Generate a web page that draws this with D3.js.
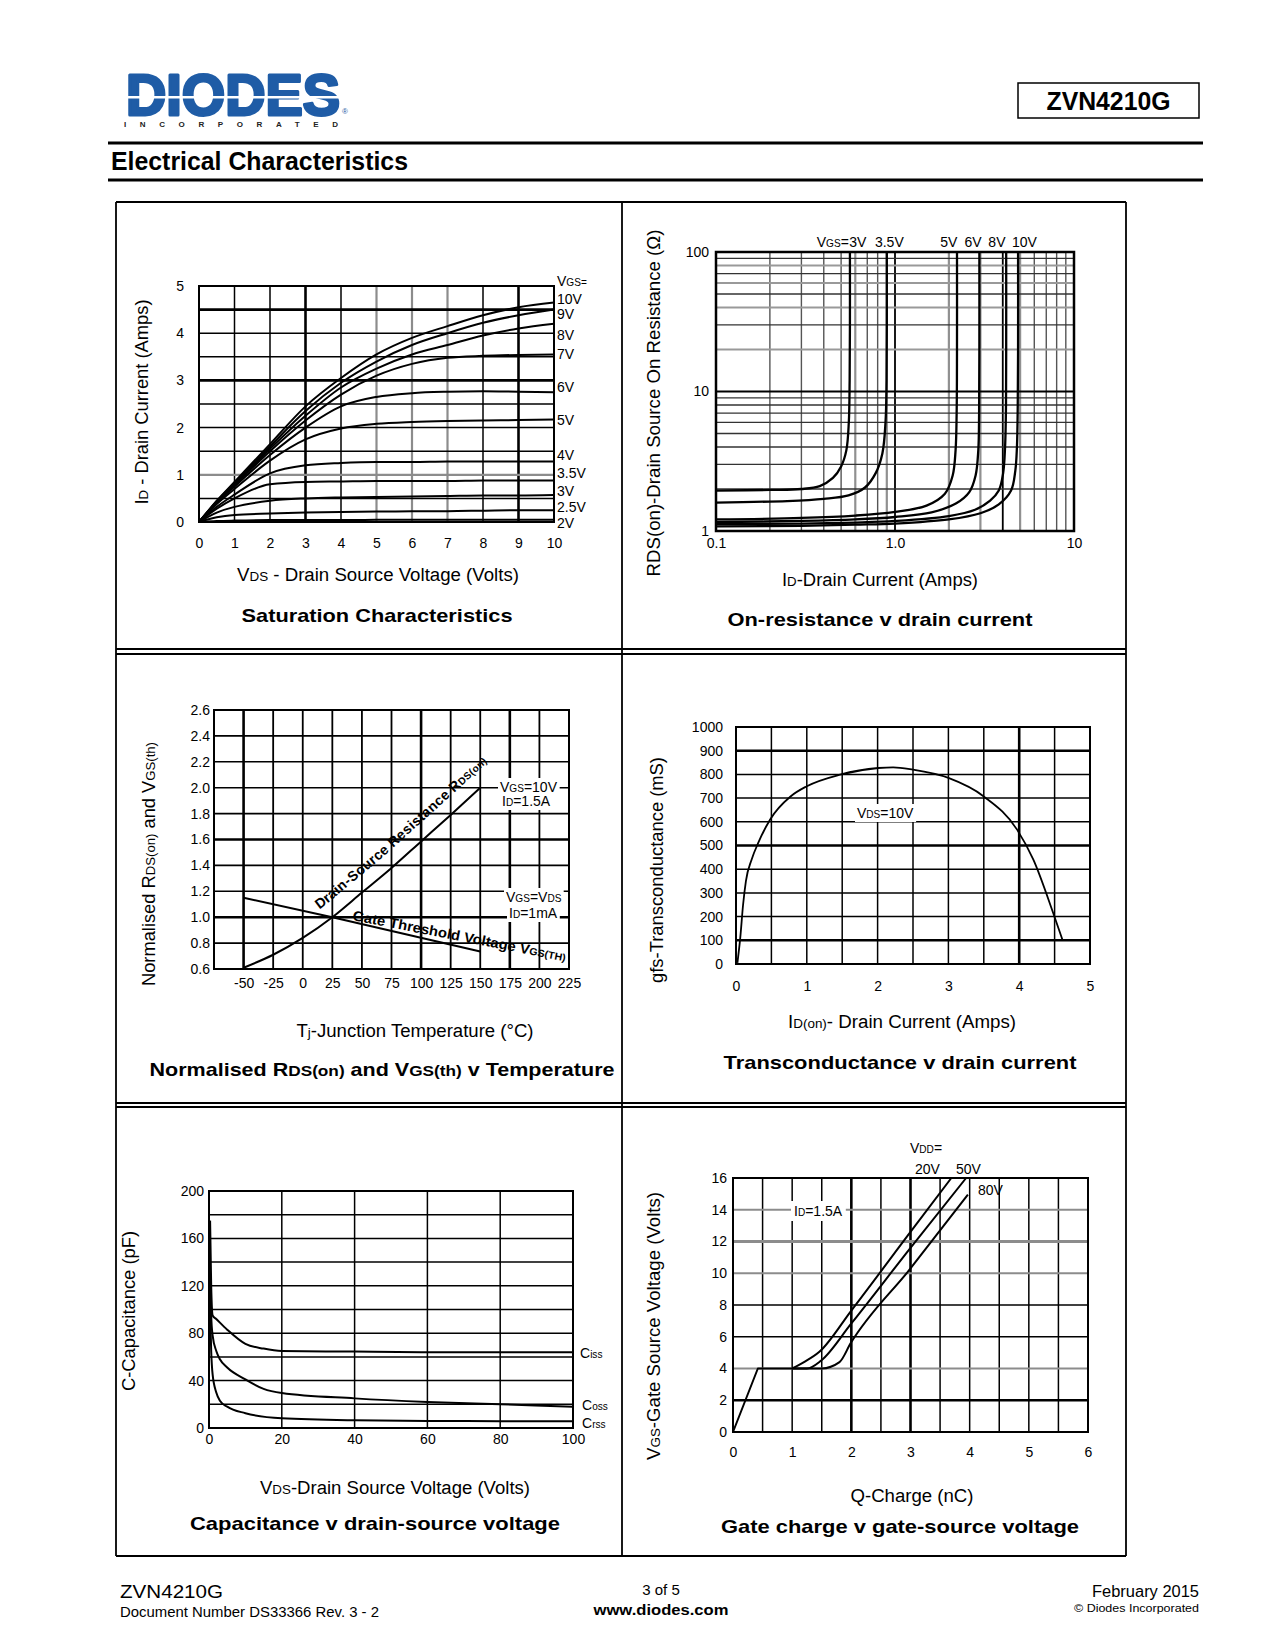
<!DOCTYPE html>
<html><head><meta charset="utf-8">
<script src="https://cdn.jsdelivr.net/npm/d3@7"></script>
<style>body{margin:0;background:#fff} svg{display:block} text{font-family:"Liberation Sans",Arial,sans-serif}</style>
</head><body>
<script>
// ---------- DATA ----------
// Saturation characteristics (ID vs VDS)
const satVds   = [0, 0.5, 1, 2, 3, 4, 5, 6, 7, 8, 9, 10];
const sat10V   = [0, 0.45, 0.85, 1.65, 2.45, 3.05, 3.55, 3.9, 4.15, 4.38, 4.55, 4.65];
const sat9V    = [0, 0.44, 0.83, 1.6, 2.35, 2.95, 3.4, 3.75, 4.0, 4.22, 4.38, 4.5];
const sat8V    = [0, 0.43, 0.8, 1.55, 2.25, 2.85, 3.25, 3.55, 3.75, 3.95, 4.1, 4.2];
const sat7V    = [0, 0.42, 0.78, 1.5, 2.15, 2.7, 3.1, 3.35, 3.48, 3.52, 3.54, 3.55];
const sat6V    = [0, 0.4, 0.75, 1.42, 2.0, 2.45, 2.65, 2.73, 2.76, 2.77, 2.76, 2.75];
const sat5V    = [0, 0.38, 0.7, 1.3, 1.75, 1.98, 2.08, 2.12, 2.14, 2.15, 2.16, 2.17];
const sat4V    = [0, 0.32, 0.58, 1.03, 1.2, 1.25, 1.27, 1.27, 1.28, 1.28, 1.28, 1.28];
const sat3_5V  = [0, 0.28, 0.5, 0.8, 0.85, 0.86, 0.87, 0.87, 0.87, 0.88, 0.88, 0.88];
const sat3V    = [0, 0.2, 0.32, 0.45, 0.5, 0.52, 0.53, 0.54, 0.55, 0.56, 0.56, 0.57];
const sat2_5V  = [0, 0.1, 0.15, 0.18, 0.2, 0.21, 0.22, 0.23, 0.23, 0.24, 0.25, 0.25];
const sat2V    = [0, 0.02, 0.03, 0.04, 0.04, 0.04, 0.05, 0.05, 0.05, 0.05, 0.05, 0.05];
const satLabels  = ["10V","9V","8V","7V","6V","5V","4V","3.5V","3V","2.5V","2V"];
const satLabelAt = [4.72, 4.41, 3.96, 3.56, 2.86, 2.16, 1.42, 1.04, 0.66, 0.32, -0.02];
const satXTicks = [0,1,2,3,4,5,6,7,8,9,10];
const satYTicks = [0,1,2,3,4,5];

// On-resistance vs drain current ([ID A, RDS ohm])
const ron3V   = [[0.1,1.95],[0.2,1.97],[0.3,2.0],[0.38,2.1],[0.45,2.4],[0.5,2.9],[0.535,3.8],[0.552,6],[0.558,12],[0.56,30],[0.56,100]];
const ron3_5V = [[0.1,1.6],[0.25,1.64],[0.4,1.7],[0.55,1.8],[0.68,2.05],[0.78,2.6],[0.85,3.6],[0.885,6],[0.897,12],[0.9,30],[0.9,100]];
const ron5V   = [[0.1,1.21],[0.3,1.24],[0.6,1.29],[1.0,1.37],[1.5,1.52],[1.9,1.85],[2.1,2.5],[2.18,3.8],[2.21,7],[2.22,20],[2.22,100]];
const ron6V   = [[0.1,1.16],[0.3,1.18],[0.6,1.21],[1.0,1.26],[1.6,1.36],[2.2,1.58],[2.6,1.9],[2.82,2.5],[2.92,3.8],[2.95,7],[2.96,20],[2.96,100]];
const ron8V   = [[0.1,1.12],[0.3,1.13],[0.6,1.15],[1.0,1.18],[2.0,1.28],[2.8,1.42],[3.4,1.65],[3.8,1.95],[4.02,2.6],[4.12,4],[4.17,8],[4.18,20],[4.18,100]];
const ron10V  = [[0.1,1.08],[0.3,1.09],[0.6,1.11],[1.0,1.13],[2.0,1.21],[3.0,1.34],[3.8,1.55],[4.45,1.95],[4.7,2.7],[4.8,4],[4.85,8],[4.87,20],[4.87,100]];
const ronLabels  = ["3V","3.5V","5V","6V","8V","10V"];
const ronLabelAt = [0.62, 0.93, 2.0, 2.73, 3.71, 5.29];
const ronXTicks = [0.1, 1, 10];
const ronXTickLabels = ["0.1","1.0","10"];
const ronYTicks = [1, 10, 100];

// Normalised RDS(on) and VGS(th) vs temperature
const tempRds  = [-50, -25, 0, 25, 50, 75, 100, 125, 150];
const normRds  = [0.61, 0.71, 0.84, 1.0, 1.19, 1.38, 1.585, 1.79, 2.0];
const tempVth  = [-50, 25, 150];
const normVth  = [1.15, 1.0, 0.735];
const tempXTicks = [-50,-25,0,25,50,75,100,125,150,175,200,225];
const tempYTicks = [0.6,0.8,1.0,1.2,1.4,1.6,1.8,2.0,2.2,2.4,2.6];

// Transconductance vs drain current
const gfsId  = [0.02, 0.06, 0.1, 0.14, 0.22, 0.32, 0.48, 0.77, 1.0, 1.47, 2.01, 2.22, 2.5, 3.0, 3.5, 3.97, 4.2, 4.48, 4.61];
const gfsVal = [5, 110, 250, 350, 440, 515, 609, 707, 750, 799, 827, 830, 820, 785, 707, 567, 440, 215, 103];
const gfsXTicks = [0,1,2,3,4,5];
const gfsYTicks = [0,100,200,300,400,500,600,700,800,900,1000];

// Capacitance vs drain-source voltage
const cissV = [0.3, 0.6, 1, 2, 5, 10, 15, 20, 40, 60, 80, 100];
const ciss  = [175, 120, 95, 92, 83, 71, 67, 65, 64.5, 64, 64, 64];
const cossV = [0.3, 0.6, 1, 2, 3, 5, 10, 15, 20, 40, 60, 80, 100];
const coss  = [130, 95, 78, 65, 58, 51, 41, 33, 29.5, 25, 22, 20, 18];
const crssV = [0.3, 0.6, 1, 2, 3, 5, 10, 20, 40, 60, 80, 100];
const crss  = [100, 65, 45, 30, 23, 18, 12.5, 8.2, 6.5, 6, 5.8, 5.6];
const capXTicks = [0,20,40,60,80,100];
const capYTicks = [0,40,80,120,160,200];

// Gate charge
const gcCommonQ = [0, 0.42, 1.0];
const gcCommonV = [0, 4, 4];
const gc20Q = [1.0, 1.2, 1.46, 2.0, 3.0, 3.69];
const gc20V = [4, 4.4, 5.05, 7.65, 12.6, 16];
const gc50Q = [1.0, 1.25, 1.49, 2.0, 3.0, 3.94];
const gc50V = [4, 4.0, 4.5, 6.84, 11.6, 16];
const gc80Q = [1.0, 1.5, 1.8, 1.99, 3.0, 3.97];
const gc80V = [4, 4, 4.4, 5.6, 10.3, 14.95];
const gcXTicks = [0,1,2,3,4,5,6];
const gcYTicks = [0,2,4,6,8,10,12,14,16];

// ---------- DRAWING ----------
const FONT = "Liberation Sans, Arial, sans-serif";
const svg = d3.select("body").append("svg").attr("width",1275).attr("height",1650);
svg.append("rect").attr("width",1275).attr("height",1650).attr("fill","#fff");

function rich(t, parts){
  parts.forEach(p=>{
    if (typeof p === "string") t.append("tspan").text(p);
    else t.append("tspan").attr("font-size", p.s || "0.72em").text(p.t);
  });
  return t;
}
function txt(g, x, y, str, o={}){
  let host = g, px = x, py = y;
  if (o.rot!=null){ host = g.append("g").attr("transform",`translate(${x},${y}) rotate(${o.rot})`); px = 0; py = 0; }
  const t = host.append("text").attr("x",px).attr("y",py)
    .attr("font-size",o.size||14).attr("text-anchor",o.anchor||"start").attr("fill",o.fill||"#000");
  if (o.bold) t.attr("font-weight","bold");
  if (o.len) t.attr("textLength",o.len).attr("lengthAdjust",o.adj||"spacingAndGlyphs");
  if (o.ls) t.attr("letter-spacing",o.ls);
  if (typeof str === "string") t.text(str); else rich(t,str);
  return t;
}
function bg(g, t, pad=2){
  const b = t.node().getBBox();
  d3.select(t.node().parentNode).insert("rect", function(){ return t.node(); })
    .attr("x",b.x-pad).attr("y",b.y-pad+1).attr("width",b.width+2*pad).attr("height",b.height+2*pad-2).attr("fill","#fff");
}
function line(g,x1,y1,x2,y2,c,w){
  g.append("line").attr("x1",x1).attr("y1",y1).attr("x2",x2).attr("y2",y2).attr("stroke",c).attr("stroke-width",w);
}
function grid(g, x, y, xv, yv, xs, ys){
  const [yb,yt] = y.range(), [xl,xr] = x.range();
  xv.forEach(v=>{ const s = xs(v); line(g, x(v), yb, x(v), yt, s[0], s[1]); });
  yv.forEach(v=>{ const s = ys(v); line(g, xl, y(v), xr, y(v), s[0], s[1]); });
}
function border(g, x, y, w=2){
  const [xl,xr]=x.range(), [yb,yt]=y.range();
  g.append("rect").attr("x",xl).attr("y",yt).attr("width",xr-xl).attr("height",yb-yt)
    .attr("fill","none").attr("stroke","#000").attr("stroke-width",w);
}
function axisX(g, x, yPix, vals, fmt, pad){
  g.append("g").attr("transform",`translate(0,${yPix})`)
   .call(d3.axisBottom(x).tickValues(vals).tickSize(0).tickPadding(pad).tickFormat(fmt))
   .call(a=>{ a.select(".domain").remove(); a.attr("font-size",14).attr("font-family",FONT); a.selectAll("text").attr("fill","#000"); });
}
function axisY(g, y, xPix, vals, fmt, pad){
  g.append("g").attr("transform",`translate(${xPix},0)`)
   .call(d3.axisLeft(y).tickValues(vals).tickSize(0).tickPadding(pad).tickFormat(fmt))
   .call(a=>{ a.select(".domain").remove(); a.attr("font-size",14).attr("font-family",FONT); a.selectAll("text").attr("fill","#000"); });
}
function curve(g, pts, x, y, cv, w=2){
  g.append("path").attr("d", d3.line().x(d=>x(d[0])).y(d=>y(d[1])).curve(cv)(pts))
    .attr("fill","none").attr("stroke","#000").attr("stroke-width",w).attr("stroke-linejoin","round");
}
const zip = (a,b)=>a.map((v,i)=>[v,b[i]]);
const N = ["#000",1.5], TH = ["#000",2.6], GR = ["#8c8c8c",2.2];

// ---------- HEADER ----------
const hdr = svg.append("g");
txt(hdr,126,115,"DIODES",{size:57,bold:true,fill:"#1f5ca6",len:214})
  .attr("stroke","#1f5ca6").attr("stroke-width",3).attr("stroke-linejoin","round");
hdr.append("rect").attr("x",122).attr("y",96).attr("width",222).attr("height",2.5).attr("fill","#fff");
txt(hdr,124,127,"INCORPORATED",{size:8,bold:true,len:214,adj:"spacing",fill:"#222"});
txt(hdr,342,114,"®",{size:8,fill:"#1f5ca6"});
hdr.append("rect").attr("x",1018).attr("y",83).attr("width",181).attr("height",35).attr("fill","none").attr("stroke","#000").attr("stroke-width",1.5);
txt(hdr,1108.5,110,"ZVN4210G",{size:26,bold:true,anchor:"middle",len:124});
hdr.append("rect").attr("x",108).attr("y",141.5).attr("width",1095).attr("height",3).attr("fill","#000");
txt(hdr,111,170,"Electrical Characteristics",{size:25,bold:true,len:297});
hdr.append("rect").attr("x",108).attr("y",178.5).attr("width",1095).attr("height",3).attr("fill","#000");

// ---------- PANEL FRAME ----------
const fr = svg.append("g");
[[116,202,1126,202],[116,202,116,1556],[1126,202,1126,1556],[116,1556,1126,1556],[622,202,622,1556],
 [116,649,1126,649],[116,654,1126,654],[116,1103,1126,1103],[116,1107,1126,1107]]
 .forEach(l=>line(fr,l[0],l[1],l[2],l[3],"#000",1.8));

// ---------- CHART 1: Saturation ----------
{
  const g = svg.append("g");
  const x = d3.scaleLinear().domain([0,10]).range([199,554]);
  const y = d3.scaleLinear().domain([0,5]).range([522,286]);
  grid(g,x,y,d3.range(0,11),d3.range(0,5.01,0.5),
    v=>[3,9].includes(v)?TH:([5,6,7].includes(v)?GR:N),
    v=>(v===3||v===4.5)?TH:(v===1?GR:N));
  border(g,x,y,2);
  [sat10V,sat9V,sat8V,sat7V,sat6V,sat5V,sat4V,sat3_5V,sat3V,sat2_5V,sat2V]
    .forEach(s=>curve(g, zip(satVds,s), x, y, d3.curveMonotoneX, 2));
  axisX(g,x,522,satXTicks,d=>d,16);
  axisY(g,y,199,satYTicks,d=>d,15);
  txt(g,557,y(5.1)+5,["V",{t:"GS="}],{size:14});
  satLabels.forEach((l,i)=>txt(g,557,y(satLabelAt[i])+5,l,{size:14}));
  txt(g,148,402,["I",{t:"D"}," - Drain Current (Amps)"],{size:18,anchor:"middle",rot:-90,len:205});
  txt(g,378,581,["V",{t:"DS"}," - Drain Source Voltage (Volts)"],{size:18,anchor:"middle",len:282});
  txt(g,377,622,"Saturation Characteristics",{size:19,bold:true,anchor:"middle",len:271});
}

// ---------- CHART 2: On-resistance ----------
{
  const g = svg.append("g");
  const x = d3.scaleLog().domain([0.1,10]).range([716,1074]);
  const y = d3.scaleLog().domain([1,100]).range([531,252]);
  const xv = [], yv = [];
  [0.1,1].forEach(d=>{ for(let k=1;k<=9;k++) xv.push(+(d*k).toPrecision(3)); });
  xv.push(10);
  [1,10].forEach(d=>{ for(let k=1;k<=9;k++) yv.push(d*k); });
  yv.push(100);
  grid(g,x,y,xv,yv,
    v=>(v===1||v===4||v===0.1||v===10)?["#000",1.8]:((v===0.6||v===0.9||v===2||v===3||v===5)?["#909090",2.2]:["#555",1.4]),
    v=>(v===10||v===1||v===100)?["#000",1.8]:((v>10&&v<100&&v%20===0)?["#999",2]:["#333",1.3]));
  border(g,x,y,2.5);
  [ron3V,ron3_5V,ron5V,ron6V,ron8V,ron10V].forEach(s=>curve(g,s,x,y,d3.curveCatmullRom.alpha(0.5),2.3));
  axisX(g,x,531,ronXTicks,d=>ronXTickLabels[ronXTicks.indexOf(d)],7);
  axisY(g,y,716,ronYTicks,d=>d,7);
  txt(g,x(ronLabelAt[0])-9,247,["V",{t:"GS"},"="],{size:14,anchor:"end"});
  ronLabels.forEach((l,i)=>txt(g,x(ronLabelAt[i]),247,l,{size:14,anchor:"middle"}));
  txt(g,660,403,"RDS(on)-Drain Source On Resistance  (Ω)",{size:18,anchor:"middle",rot:-90,len:347});
  txt(g,880,586,["I",{t:"D"},"-Drain Current (Amps)"],{size:18,anchor:"middle",len:196});
  txt(g,880,626,"On-resistance v drain current",{size:19,bold:true,anchor:"middle",len:305});
}

// ---------- CHART 3: Normalised vs temperature ----------
{
  const g = svg.append("g");
  const x = d3.scaleLinear().domain([-75,225]).range([214,569]);
  const y = d3.scaleLinear().domain([0.6,2.6]).range([969,710]);
  grid(g,x,y,d3.range(-75,226,25),d3.range(0,11).map(i=>+(0.6+0.2*i).toFixed(1)),
    v=>([-50,100,175].includes(v))?TH:["#000",1.8],
    v=>(v===1.0||v===1.6)?TH:["#000",1.6]);
  border(g,x,y,2);
  const a1 = txt(g,500,792,["V",{t:"GS"},"=10V"],{size:14});
  const a2 = txt(g,502,806,["I",{t:"D"},"=1.5A"],{size:14});
  bg(g,a1,2); bg(g,a2,2);
  const a3 = txt(g,506,902,["V",{t:"GS"},"=V",{t:"DS"}],{size:14});
  const a4 = txt(g,509,918,["I",{t:"D"},"=1mA"],{size:14});
  bg(g,a3,2); bg(g,a4,2);
  const rdsLine = d3.line().x(d=>x(d[0])).y(d=>y(d[1])).curve(d3.curveMonotoneX);
  const rdsD = rdsLine(zip(tempRds,normRds));
  g.append("path").attr("d",rdsD).attr("fill","none").attr("stroke","#000").attr("stroke-width",2);
  // invisible guide for the label (curve + short straight run-out so the text fits)
  g.append("path").attr("id","rdsGuide").attr("d",rdsD+" l 40 -37").attr("fill","none").attr("stroke","none");
  curve(g, zip(tempVth,normVth), x, y, d3.curveLinear, 2);
  const tp = g.append("text").attr("font-size",14).attr("font-weight","bold").attr("letter-spacing",0.4).attr("dy",-14)
    .append("textPath").attr("href","#rdsGuide").attr("startOffset",97);
  rich(tp,["Drain-Source Resistance R",{t:"DS(on)"}]);
  txt(g,352,920,["Gate Threshold Voltage V",{t:"GS(TH)"}],{size:14,bold:true,rot:11,len:217});
  axisX(g,x,969,tempXTicks,d=>d,9);
  axisY(g,y,214,tempYTicks,d=>d.toFixed(1),4);
  txt(g,155,864,["Normalised R",{t:"DS(on)"}," and V",{t:"GS(th)"}],{size:18,anchor:"middle",rot:-90,len:244});
  txt(g,415,1037,["T",{t:"j"},"-Junction Temperature (°C)"],{size:18,anchor:"middle",len:237});
  txt(g,382,1076,["Normalised R",{t:"DS(on)",s:"0.8em"}," and V",{t:"GS(th)",s:"0.8em"}," v Temperature"],{size:19,bold:true,anchor:"middle",len:465});
}

// ---------- CHART 4: Transconductance ----------
{
  const g = svg.append("g");
  const x = d3.scaleLinear().domain([0,5]).range([736,1090]);
  const y = d3.scaleLinear().domain([0,1000]).range([964,727]);
  grid(g,x,y,d3.range(0,5.01,0.5),d3.range(0,1001,100),
    v=>v===4?TH:N, v=>(v===100||v===500||v===900)?TH:N);
  border(g,x,y,2);
  const a = txt(g,857,818,["V",{t:"DS"},"=10V"],{size:14});
  bg(g,a,2);
  curve(g, zip(gfsId,gfsVal), x, y, d3.curveMonotoneX, 1.8);
  axisX(g,x,964,gfsXTicks,d=>d,17);
  axisY(g,y,736,gfsYTicks,d=>d,13);
  txt(g,663,870,"gfs-Transconductance (mS)",{size:18,anchor:"middle",rot:-90,len:226});
  txt(g,902,1028,["I",{t:"D(on)"},"- Drain Current (Amps)"],{size:18,anchor:"middle",len:228});
  txt(g,900,1069,"Transconductance v drain current",{size:19,bold:true,anchor:"middle",len:353});
}

// ---------- CHART 5: Capacitance ----------
{
  const g = svg.append("g");
  const x = d3.scaleLinear().domain([0,100]).range([209,573]);
  const y = d3.scaleLinear().domain([0,200]).range([1428,1191]);
  grid(g,x,y,d3.range(0,101,20),d3.range(0,201,20),v=>N,v=>N);
  border(g,x,y,2);
  curve(g, zip(cissV,ciss), x, y, d3.curveMonotoneX, 2);
  curve(g, zip(cossV,coss), x, y, d3.curveMonotoneX, 2);
  curve(g, zip(crssV,crss), x, y, d3.curveMonotoneX, 2);
  txt(g,580,1358,["C",{t:"iss"}],{size:14});
  txt(g,582,1410,["C",{t:"oss"}],{size:14});
  txt(g,582,1428,["C",{t:"rss"}],{size:14});
  axisX(g,x,1428,capXTicks,d=>d,6);
  axisY(g,y,209,capYTicks,d=>d,5);
  txt(g,135,1311,"C-Capacitance (pF)",{size:18,anchor:"middle",rot:-90,len:160});
  txt(g,395,1494,["V",{t:"DS"},"-Drain Source Voltage (Volts)"],{size:18,anchor:"middle",len:270});
  txt(g,375,1530,"Capacitance v drain-source voltage",{size:19,bold:true,anchor:"middle",len:370});
}

// ---------- CHART 6: Gate charge ----------
{
  const g = svg.append("g");
  const x = d3.scaleLinear().domain([0,6]).range([733,1088]);
  const y = d3.scaleLinear().domain([0,16]).range([1432,1178]);
  grid(g,x,y,d3.range(0,6.01,0.5),d3.range(0,17,2),
    v=>(v===2||v===3)?TH:N,
    v=>v===2?TH:(v===12?["#8c8c8c",3]:((v===4||v===14||v===10)?["#8c8c8c",2]:N)));
  border(g,x,y,2);
  const a = txt(g,794,1216,["I",{t:"D"},"=1.5A"],{size:14});
  bg(g,a,3);
  curve(g, zip(gcCommonQ,gcCommonV), x, y, d3.curveLinear, 2);
  curve(g, zip(gc20Q,gc20V), x, y, d3.curveMonotoneX, 2);
  curve(g, zip(gc50Q,gc50V), x, y, d3.curveMonotoneX, 2);
  curve(g, zip(gc80Q,gc80V), x, y, d3.curveMonotoneX, 2);
  txt(g,910,1153,["V",{t:"DD"},"="],{size:14});
  txt(g,915,1174,"20V",{size:14});
  txt(g,956,1174,"50V",{size:14});
  txt(g,978,1195,"80V",{size:14});
  axisX(g,x,1432,gcXTicks,d=>d,15);
  axisY(g,y,733,gcYTicks,d=>d,6);
  txt(g,660,1326,["V",{t:"GS"},"-Gate Source Voltage (Volts)"],{size:18,anchor:"middle",rot:-90,len:268});
  txt(g,912,1502,"Q-Charge (nC)",{size:18,anchor:"middle",len:123});
  txt(g,900,1533,"Gate charge v gate-source voltage",{size:19,bold:true,anchor:"middle",len:358});
}

// ---------- FOOTER ----------
{
  const g = svg.append("g");
  txt(g,120,1598,"ZVN4210G",{size:19,len:103});
  txt(g,120,1617,"Document Number DS33366  Rev. 3 - 2",{size:14,len:259});
  txt(g,661,1595,"3 of 5",{size:15,anchor:"middle"});
  txt(g,661,1615,"www.diodes.com",{size:15,bold:true,anchor:"middle",len:135});
  txt(g,1199,1597,"February 2015",{size:16,anchor:"end",len:107});
  txt(g,1199,1612,"© Diodes Incorporated",{size:11,anchor:"end",len:125});
}
</script></body></html>
